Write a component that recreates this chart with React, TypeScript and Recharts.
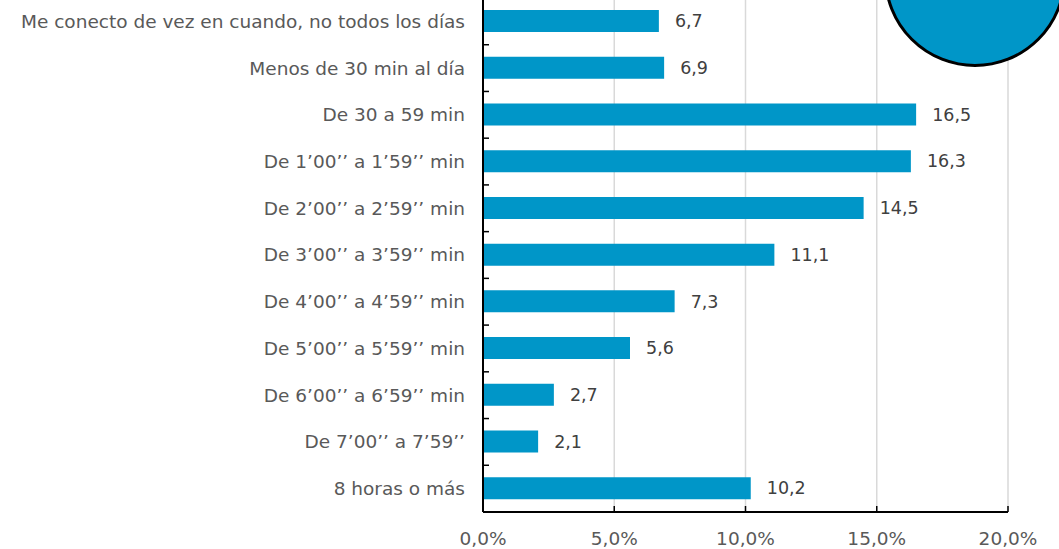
import { Bar, BarChart, CartesianGrid, LabelList, XAxis, YAxis } from "recharts";

const categories = [
  "Me conecto de vez en cuando, no todos los días",
  "Menos de 30 min al día",
  "De 30 a 59 min",
  "De 1’00’’ a 1’59’’ min",
  "De 2’00’’ a 2’59’’ min",
  "De 3’00’’ a 3’59’’ min",
  "De 4’00’’ a 4’59’’ min",
  "De 5’00’’ a 5’59’’ min",
  "De 6’00’’ a 6’59’’ min",
  "De 7’00’’ a 7’59’’",
  "8 horas o más",
];

const values = [6.7, 6.9, 16.5, 16.3, 14.5, 11.1, 7.3, 5.6, 2.7, 2.1, 10.2];

const xTicks = [0, 5, 10, 15, 20];

const W = 1059;
const H = 551;
const X_AXIS_H = 37;
const MARGIN = { top: 0, right: 51, bottom: 0, left: 0 };
const Y_AXIS_W = 483;
const AXIS_Y = H - X_AXIS_H;
const BAND = (H - X_AXIS_H) / categories.length;

const FONT = "Verdana, 'DejaVu Sans', sans-serif";
const BLUE = "#0096C8";

const data = categories.map((name, i) => ({ name, value: values[i] }));

const fmt = (v: number) => v.toFixed(1).replace(".", ",");

function YTick(props: any) {
  const { y, payload } = props;
  const edge = y - BAND / 2;
  return (
    <g>
      <line x1={Y_AXIS_W} x2={Y_AXIS_W + 6} y1={edge} y2={edge} stroke="#000" strokeWidth={1.5} />
      <text
        x={Y_AXIS_W - 18}
        y={y}
        dy="0.35em"
        textAnchor="end"
        fill="#595959"
        fontSize={18.5}
        fontFamily={FONT}
      >
        {payload.value}
      </text>
    </g>
  );
}

function XTick(props: any) {
  const { x, payload } = props;
  return (
    <g>
      <line x1={x} x2={x} y1={AXIS_Y} y2={AXIS_Y - 6} stroke="#000" strokeWidth={1.5} />
      <text
        x={x}
        y={AXIS_Y + 27}
        dy="0.35em"
        textAnchor="middle"
        fill="#595959"
        fontSize={18.5}
        fontFamily={FONT}
      >
        {fmt(payload.value) + "%"}
      </text>
    </g>
  );
}

export default function App() {
  return (
    <div
      style={{
        position: "absolute",
        left: 0,
        top: -2,
        width: W,
        height: H,
        background: "#fff",
        overflow: "hidden",
      }}
    >
      <BarChart
        width={W}
        height={H}
        data={data}
        layout="vertical"
        margin={MARGIN}
        barCategoryGap={0}
      >
        <CartesianGrid horizontal={false} stroke="#d9d9d9" strokeWidth={1.5} />
        <XAxis
          type="number"
          domain={[0, 20]}
          ticks={xTicks}
          height={X_AXIS_H}
          tick={<XTick />}
          tickLine={false}
          axisLine={{ stroke: "#000", strokeWidth: 2 }}
          interval={0}
        />
        <YAxis
          type="category"
          dataKey="name"
          width={Y_AXIS_W}
          tick={<YTick />}
          tickLine={false}
          axisLine={{ stroke: "#000", strokeWidth: 2 }}
          interval={0}
        />
        <Bar dataKey="value" fill={BLUE} barSize={22} isAnimationActive={false}>
          <LabelList
            dataKey="value"
            position="right"
            offset={16}
            formatter={(v: any) => fmt(Number(v))}
            style={{ fill: "#404040", fontSize: 17.5, fontFamily: FONT }}
          />
        </Bar>
      </BarChart>
      <div
        style={{
          position: "absolute",
          left: 975 - 91,
          top: 4 - 26 - 91,
          width: 176,
          height: 176,
          borderRadius: "50%",
          background: BLUE,
          border: "3px solid #000",
        }}
      />
    </div>
  );
}
